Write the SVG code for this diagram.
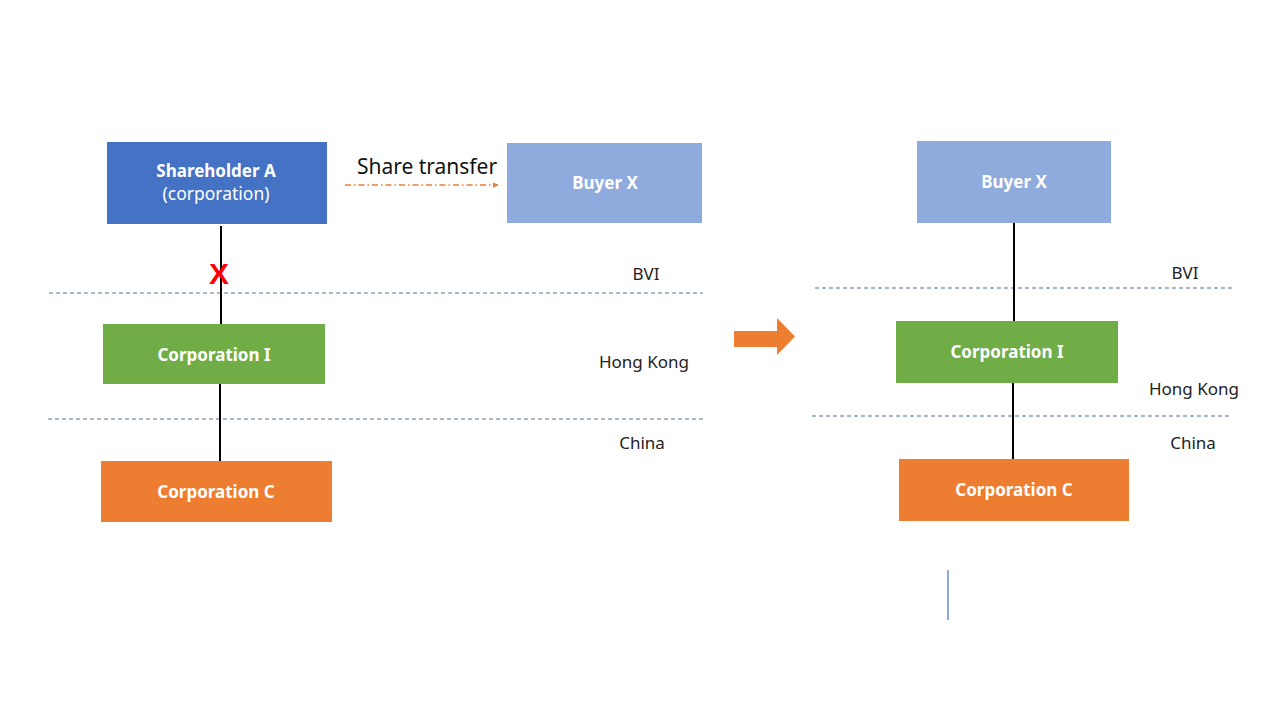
<svg xmlns="http://www.w3.org/2000/svg" width="1280" height="720" viewBox="0 0 1280 720">
<defs>
<style>
.lbl{font-family:"Noto Sans","Liberation Sans",sans-serif;font-size:17px;fill:#222;text-anchor:middle}
.nt{font-family:"Noto Sans","Liberation Sans",sans-serif;font-size:17px;font-weight:bold;fill:#fff;text-anchor:middle}
.nt2{font-family:"Noto Sans","Liberation Sans",sans-serif;font-size:17.5px;fill:#fff;text-anchor:middle}
.dash{stroke:#4F6F9C;stroke-width:1;stroke-dasharray:4 3;fill:none}
.link{stroke:#000;stroke-width:2;fill:none}
</style>
<marker id="ah" viewBox="0 0 10 10" refX="9" refY="5" markerWidth="6" markerHeight="6" orient="auto" markerUnits="userSpaceOnUse">
<path d="M0,0 L10,5 L0,10 z" fill="#ED7D31"/>
</marker>
</defs>
<rect width="1280" height="720" fill="#fff"/>

<g id="boundaries">
<line class="dash" x1="49" y1="293" x2="703" y2="293"/>
<line class="dash" x1="48" y1="419" x2="703" y2="419"/>
<line class="dash" x1="815" y1="288" x2="1232" y2="288"/>
<line class="dash" x1="812" y1="416" x2="1230" y2="416"/>
<text class="lbl" x="646" y="280">BVI</text>
<text class="lbl" x="644" y="368">Hong Kong</text>
<text class="lbl" x="642" y="449">China</text>
<text class="lbl" x="1185" y="279">BVI</text>
<text class="lbl" x="1194" y="395">Hong Kong</text>
<text class="lbl" x="1193" y="449">China</text>
</g>

<g id="connectors">
<line class="link" x1="221" y1="226" x2="221" y2="324"/>
<line class="link" x1="220" y1="384" x2="220" y2="461"/>
<line class="link" x1="1014" y1="223" x2="1014" y2="321"/>
<line class="link" x1="1013" y1="383" x2="1013" y2="459"/>
<line x1="345" y1="185" x2="498" y2="185" stroke="#ED7D31" stroke-width="1.3" stroke-dasharray="6 3 1.5 3" marker-end="url(#ah)"/>
<text x="427" y="174" style="font-family:'Noto Sans','Liberation Sans',sans-serif;font-size:21px;fill:#111;text-anchor:middle">Share transfer</text>
<text x="219" y="284" style="font-family:'Liberation Sans',sans-serif;font-size:30px;font-weight:bold;fill:#FF0000;text-anchor:middle">X</text>
</g>

<g id="shareholderA">
<rect x="107" y="142" width="220" height="82" fill="#4472C4"/>
<text class="nt" x="216" y="177">Shareholder A</text>
<text class="nt2" x="216" y="200">(corporation)</text>
</g>
<g id="buyerX-left">
<rect x="507" y="143" width="195" height="80" fill="#8FAADC"/>
<text class="nt" x="605" y="189">Buyer X</text>
</g>
<g id="corpI-left">
<rect x="103" y="324" width="222" height="60" fill="#70AD47"/>
<text class="nt" x="214" y="361">Corporation I</text>
</g>
<g id="corpC-left">
<rect x="101" y="461" width="231" height="61" fill="#ED7D31"/>
<text class="nt" x="216" y="498">Corporation C</text>
</g>

<g id="bigArrow">
<path d="M734,331 L777,331 L777,318 L795,336.5 L777,355 L777,347 L734,347 z" fill="#ED7D31"/>
</g>

<g id="buyerX-right">
<rect x="917" y="141" width="194" height="82" fill="#8FAADC"/>
<text class="nt" x="1014" y="188">Buyer X</text>
</g>
<g id="corpI-right">
<rect x="896" y="321" width="222" height="62" fill="#70AD47"/>
<text class="nt" x="1007" y="358">Corporation I</text>
</g>
<g id="corpC-right">
<rect x="899" y="459" width="230" height="62" fill="#ED7D31"/>
<text class="nt" x="1014" y="496">Corporation C</text>
</g>

<g id="stray">
<line x1="948" y1="570" x2="948" y2="620" stroke="#4472C4" stroke-width="1.2"/>
</g>
</svg>
